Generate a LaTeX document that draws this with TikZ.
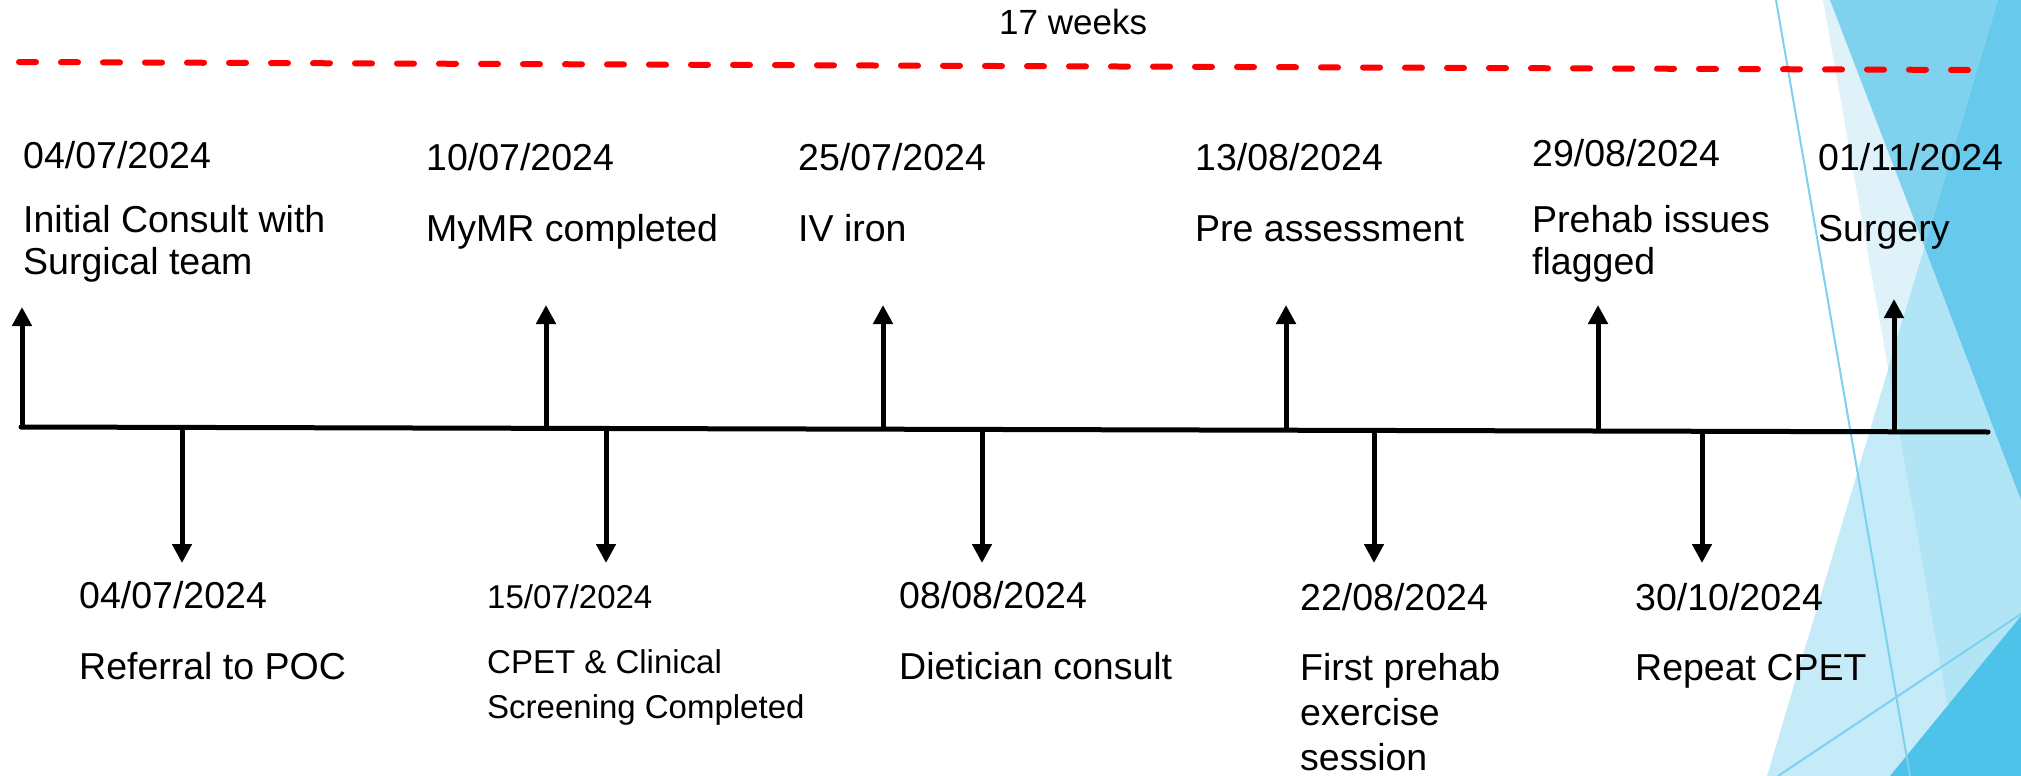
\documentclass[tikz,border=0pt]{standalone}
\usepackage{fontspec}
\setmainfont{Liberation Sans}
\usetikzlibrary{arrows.meta}
\definecolor{veryl}{HTML}{DFF2FA}
\definecolor{lightA}{HTML}{C6EBF8}
\definecolor{lightB}{HTML}{B1E4F5}
\definecolor{medb}{HTML}{7FD2EE}
\definecolor{darkb}{HTML}{67C9EC}
\definecolor{botb}{HTML}{4EC3EA}
\definecolor{thinb}{HTML}{7DD0EE}
\definecolor{redd}{HTML}{FF0000}
\tikzset{
  lbl/.style={anchor=base west, inner sep=0pt, font=\fontsize{37.5}{40}\selectfont},
  lbls/.style={anchor=base west, inner sep=0pt, font=\fontsize{33}{36}\selectfont},
  wk/.style={anchor=base west, inner sep=0pt, font=\fontsize{35}{38}\selectfont},
  arr/.style={line width=5pt, -{Triangle[length=19pt,width=19pt]}},
  axis/.style={line width=5pt, line cap=round},
  reddash/.style={line width=6pt, line cap=round, redd, dash pattern=on 17pt off 25pt},
  thin/.style={line width=2pt, thinb}
}
\begin{document}
\begin{tikzpicture}[x=1pt,y=-1pt]
\useasboundingbox (0,0) rectangle (2021,776);
% background decoration
\begin{scope}
\clip (0,0) rectangle (2021,776);
\fill[lightA] (1998,0) -- (2021,0) -- (2021,776) -- (1767,776) -- cycle;
\fill[lightB] (1998,0) -- (2021,0) -- (2021,776) -- (1960,776) -- (1888,368) -- cycle;
\fill[veryl] (1823,0) -- (1998,0) -- (1888,368) -- cycle;
\fill[medb] (1830,0) -- (1998,0) -- (1924.6,247) -- cycle;
\fill[darkb] (1998,0) -- (2021,0) -- (2021,500) -- (1924.6,247) -- cycle;
\fill[botb] (1890,776) -- (2021,616) -- (2021,776) -- cycle;
\coordinate (ta) at (1776,0);
\coordinate (tb) at (1910,776);
\coordinate (tc) at (1778,776);
\coordinate (td) at (2021,614);
\draw[thin] (ta) -- (tb);
\draw[thin] (tc) -- (td);
\end{scope}

% 17 weeks
\node[wk] (weeks) at (999,35) {17 weeks};
\coordinate (rd0) at (19,62);
\coordinate (rd1) at (1973,70);
\draw[reddash] (rd0) -- (rd1);

% timeline
\coordinate (ax0) at (21,427);
\coordinate (ax1) at (1988,432);
\draw[axis] (ax0) -- (ax1);

% up arrows
\coordinate (u1) at (22,427.0);   \coordinate (u1t) at (22,307);
\coordinate (u2) at (546,428.3);  \coordinate (u2t) at (546,305);
\coordinate (u3) at (883,429.2);  \coordinate (u3t) at (883,305);
\coordinate (u4) at (1286,430.2); \coordinate (u4t) at (1286,305);
\coordinate (u5) at (1598,431.0); \coordinate (u5t) at (1598,305);
\coordinate (u6) at (1894,431.8); \coordinate (u6t) at (1894,299);
\foreach \i in {1,...,6} \draw[arr] (u\i) -- (u\i t);

% down arrows
\coordinate (d1) at (182,427.4);  \coordinate (d1t) at (182,563);
\coordinate (d2) at (606,428.5);  \coordinate (d2t) at (606,563);
\coordinate (d3) at (982,429.4);  \coordinate (d3t) at (982,563);
\coordinate (d4) at (1374,430.4); \coordinate (d4t) at (1374,563);
\coordinate (d5) at (1702,431.3); \coordinate (d5t) at (1702,563);
\foreach \i in {1,...,5} \draw[arr] (d\i) -- (d\i t);

% top labels
\node[lbl] (t1d) at (23,168) {04/07/2024};
\node[lbl] (t1a) at (23,232) {Initial Consult with};
\node[lbl] (t1b) at (23,274) {Surgical team};
\node[lbl] (t2d) at (426,170) {10/07/2024};
\node[lbl] (t2a) at (426,241) {MyMR completed};
\node[lbl] (t3d) at (798,170) {25/07/2024};
\node[lbl] (t3a) at (798,241) {IV iron};
\node[lbl] (t4d) at (1195,170) {13/08/2024};
\node[lbl] (t4a) at (1195,241) {Pre assessment};
\node[lbl] (t5d) at (1532,166) {29/08/2024};
\node[lbl] (t5a) at (1532,232) {Prehab issues};
\node[lbl] (t5b) at (1532,274) {flagged};
\node[lbl] (t6d) at (1818,170) {01/11/2024};
\node[lbl] (t6a) at (1818,241) {Surgery};

% bottom labels
\node[lbl] (b1d) at (79,608) {04/07/2024};
\node[lbl] (b1a) at (79,679) {Referral to POC};
\node[lbls] (b2d) at (487,608) {15/07/2024};
\node[lbls] (b2a) at (487,673) {CPET \& Clinical};
\node[lbls] (b2b) at (487,718) {Screening Completed};
\node[lbl] (b3d) at (899,608) {08/08/2024};
\node[lbl] (b3a) at (899,679) {Dietician consult};
\node[lbl] (b4d) at (1300,610) {22/08/2024};
\node[lbl] (b4a) at (1300,680) {First prehab};
\node[lbl] (b4b) at (1300,725) {exercise};
\node[lbl] (b4c) at (1300,770) {session};
\node[lbl] (b5d) at (1635,610) {30/10/2024};
\node[lbl] (b5a) at (1635,680) {Repeat CPET};
\end{tikzpicture}
\end{document}
